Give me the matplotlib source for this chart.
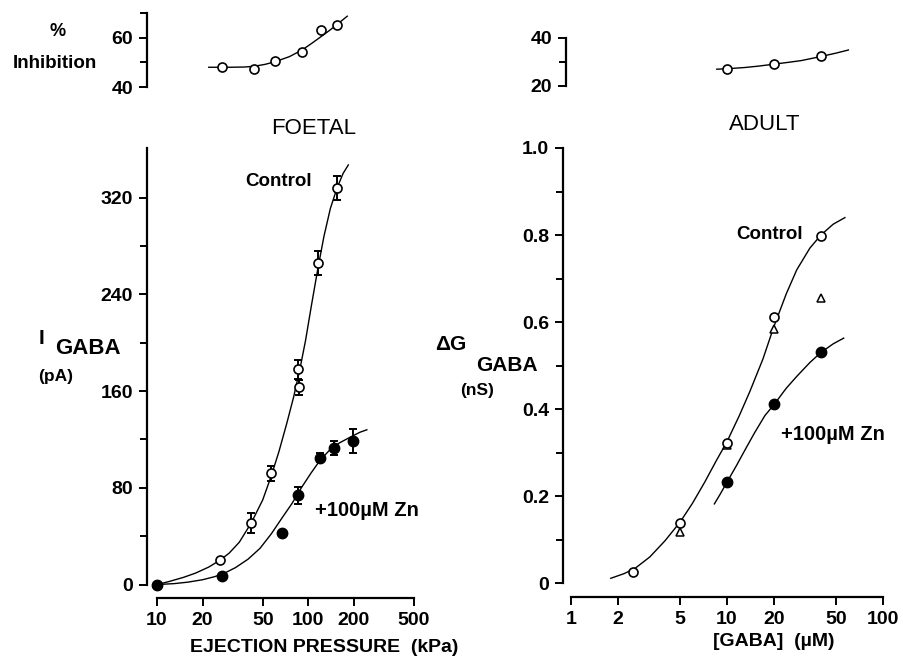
import matplotlib
matplotlib.use("Agg")
import matplotlib.pyplot as plt
import numpy as np
from matplotlib.ticker import FixedLocator, NullLocator, FixedFormatter

plt.rcParams['font.family'] = ['Liberation Sans', 'DejaVu Sans']
plt.rcParams['font.weight'] = 'bold'

W, H = 904, 659

# ---- FOETAL data (ejection pressure kPa, I_GABA pA) ----
foetal_press_ctrl = [10, 26, 42, 57, 85, 87, 116, 155]
foetal_i_ctrl = [0, 20, 51, 92, 178, 163, 266, 328]
foetal_err_ctrl = [0, 0, 8, 6, 8, 6, 10, 10]

foetal_press_zn = [10, 27, 67, 86, 120, 148, 198]
foetal_i_zn = [0, 7, 43, 74, 105, 113, 119]
foetal_err_zn = [0, 0, 0, 7, 4, 6, 10]

# fitted curves
foetal_fit_ctrl_x = [10, 12, 15, 18, 22, 26, 30, 35, 42, 50, 57, 64, 72, 80,
                     88, 96, 105, 116, 127, 140, 155, 170, 184]
foetal_fit_ctrl_y = [0, 2.5, 6, 9.5, 14.5, 20, 26, 35, 51, 70, 90, 110, 133, 155,
                     178, 202, 231, 262, 288, 311, 328, 340, 347]
foetal_fit_zn_x = [10, 13, 16, 20, 24, 28, 33, 40, 48, 57, 67, 78, 90, 104,
                   120, 138, 160, 190, 220, 244]
foetal_fit_zn_y = [0, 0.8, 2, 4, 6.5, 9.5, 14, 21, 30, 42, 55, 67, 80, 92,
                   103, 111, 117, 122, 126, 128]

# % inhibition (foetal)
foetal_inh_x = [27, 44, 60, 91, 122, 156]
foetal_inh = [48.3, 47.3, 50.6, 54, 63.3, 65]
foetal_inh_fit_x = [22, 30, 38, 44, 52, 60, 75, 91, 106, 122, 140, 156, 181]
foetal_inh_fit_y = [48, 48, 48.1, 48.4, 49.2, 50.2, 52.3, 55, 57.8, 60.5, 63.2, 65.5, 68.7]

# ---- ADULT data ([GABA] uM, dG nS) ----
adult_gaba_ctrl = [2.5, 5, 10, 20, 40]
adult_g_ctrl = [0.025, 0.138, 0.322, 0.611, 0.798]
adult_gaba_tri = [5, 10, 20, 40]
adult_g_tri = [0.117, 0.317, 0.584, 0.655]
adult_gaba_zn = [10, 20, 40]
adult_g_zn = [0.232, 0.411, 0.531]

adult_fit_ctrl_x = [1.8, 2.2, 2.6, 3.2, 4, 5, 6, 7.2, 8.5, 10, 12, 14, 17, 20,
                    24, 28, 34, 40, 48, 57]
adult_fit_ctrl_y = [0.011, 0.022, 0.035, 0.06, 0.097, 0.14, 0.183, 0.232, 0.28, 0.325,
                    0.385, 0.44, 0.515, 0.59, 0.665, 0.72, 0.77, 0.80, 0.825, 0.84]
adult_fit_zn_x = [8.3, 9, 10, 11.5, 13, 15, 17.5, 20, 24, 28, 34, 40, 48, 56]
adult_fit_zn_y = [0.182, 0.203, 0.232, 0.27, 0.305, 0.345, 0.385, 0.41, 0.448, 0.475,
                  0.507, 0.53, 0.55, 0.563]

adult_inh_x = [10, 20, 40]
adult_inh = [27.2, 29.2, 32.5]
adult_inh_fit_x = [8.6, 10, 13, 16, 20, 25, 30, 35, 40, 50, 60]
adult_inh_fit_y = [27, 27.2, 27.7, 28.3, 29.1, 29.9, 30.6, 31.5, 32.3, 33.7, 35]

foetal_xticks = [10, 20, 50, 100, 200, 500]
adult_xticks = [1, 2, 5, 10, 20, 50, 100]


fig = plt.figure(figsize=(W / 100, H / 100), dpi=100)


def px_axes(x0, y0, x1, y1):
    return fig.add_axes([x0 / W, 1 - y1 / H, (x1 - x0) / W, (y1 - y0) / H])


def ftext(x, y, s, **kw):
    kw.setdefault('ha', 'center')
    kw.setdefault('va', 'center')
    fig.text(x / W, 1 - y / H, s, **kw)


def style(ax, bottom=True):
    for s in ['top', 'right']:
        ax.spines[s].set_visible(False)
    ax.spines['left'].set_linewidth(1.6)
    ax.spines['bottom'].set_linewidth(1.6)
    ax.patch.set_alpha(0)
    ax.tick_params(which='both', direction='out', width=1.4, labelsize=14)
    ax.tick_params(which='major', length=6, pad=4)
    ax.tick_params(which='minor', length=5)
    ax.xaxis.set_minor_locator(NullLocator())
    if not bottom:
        ax.spines['bottom'].set_visible(False)
        ax.set_xticks([])


open_kw = dict(marker='o', ms=6.5, mfc='white', mec='black', mew=1.2, ls='none', zorder=4)
fill_kw = dict(marker='o', ms=7.5, mfc='black', mec='black', ls='none', zorder=5)
tri_kw = dict(marker='^', ms=6, mfc='white', mec='black', mew=1.1, ls='none', zorder=4)
line_kw = dict(color='black', lw=1.0, zorder=2)


def errs(ax, x, y, e):
    x, y, e = np.array(x), np.array(y), np.array(e)
    m = e > 0
    ax.errorbar(x[m], y[m], yerr=e[m], fmt='none', ecolor='black',
                elinewidth=1.4, capsize=3, capthick=1.4, zorder=3)


# ---------------- FOETAL main ----------------
ax1 = px_axes(147, 148, 414, 598)
ax1.set_xscale('log')
ax1.set_xlim(8.59, 500)
ax1.set_ylim(-11.1, 361)
style(ax1)
ax1.spines['left'].set_bounds(0, 361)
ax1.spines['bottom'].set_bounds(10, 500)
ax1.xaxis.set_major_locator(FixedLocator(foetal_xticks))
ax1.xaxis.set_major_formatter(FixedFormatter([str(v) for v in foetal_xticks]))
ax1.set_yticks([0, 80, 160, 240, 320])
ax1.yaxis.set_minor_locator(FixedLocator([40, 120, 200, 280]))

ax1.plot(foetal_fit_ctrl_x, foetal_fit_ctrl_y, **line_kw)
ax1.plot(foetal_fit_zn_x, foetal_fit_zn_y, **line_kw)
errs(ax1, foetal_press_ctrl, foetal_i_ctrl, foetal_err_ctrl)
errs(ax1, foetal_press_zn, foetal_i_zn, foetal_err_zn)
ax1.plot(foetal_press_ctrl, foetal_i_ctrl, **open_kw)
ax1.plot(foetal_press_zn, foetal_i_zn, **fill_kw)

# ---------------- FOETAL inset ----------------
ax1i = px_axes(147, 13, 414, 87)
ax1i.set_xscale('log')
ax1i.set_xlim(8.59, 500)
ax1i.set_ylim(40, 70)
style(ax1i, bottom=False)
ax1i.set_yticks([40, 60])
ax1i.yaxis.set_minor_locator(FixedLocator([50, 70]))
ax1i.plot(foetal_inh_fit_x, foetal_inh_fit_y, **line_kw)
ax1i.plot(foetal_inh_x, foetal_inh, **open_kw)

# ---------------- ADULT main ----------------
ax2 = px_axes(563, 148, 883, 597)
ax2.set_xscale('log')
ax2.set_xlim(0.889, 100)
ax2.set_ylim(-0.032, 1.0)
style(ax2)
ax2.spines['left'].set_bounds(0, 1.0)
ax2.spines['bottom'].set_bounds(1, 100)
ax2.xaxis.set_major_locator(FixedLocator(adult_xticks))
ax2.xaxis.set_major_formatter(FixedFormatter([str(v) for v in adult_xticks]))
ax2.set_yticks([0, 0.2, 0.4, 0.6, 0.8, 1.0])
ax2.set_yticklabels(['0', '0.2', '0.4', '0.6', '0.8', '1.0'])
ax2.yaxis.set_minor_locator(FixedLocator([0.1, 0.3, 0.5, 0.7, 0.9]))

ax2.plot(adult_fit_ctrl_x, adult_fit_ctrl_y, **line_kw)
ax2.plot(adult_fit_zn_x, adult_fit_zn_y, **line_kw)
ax2.plot(adult_gaba_tri, adult_g_tri, **tri_kw)
ax2.plot(adult_gaba_ctrl, adult_g_ctrl, **open_kw)
ax2.plot(adult_gaba_zn, adult_g_zn, **fill_kw)

# ---------------- ADULT inset ----------------
ax2i = px_axes(566, 38, 883, 86)
ax2i.set_xscale('log')
ax2i.set_xlim(0.929, 100)
ax2i.set_ylim(20, 40)
style(ax2i, bottom=False)
ax2i.set_yticks([20, 40])
ax2i.yaxis.set_minor_locator(FixedLocator([30]))
ax2i.plot(adult_inh_fit_x, adult_inh_fit_y, **line_kw)
ax2i.plot(adult_inh_x, adult_inh, **open_kw)

# ---------------- texts ----------------
ftext(58, 32, '%', fontsize=13)
ftext(55, 63, 'Inhibition', fontsize=13.5)
ftext(314, 128, 'FOETAL', fontsize=16, fontweight='normal')
ftext(765, 124, 'ADULT', fontsize=16, fontweight='normal')

ftext(279, 182, 'Control', fontsize=13.5)
ftext(367, 511, '+100\u00b5M Zn', fontsize=14.5)
ftext(770, 234, 'Control', fontsize=13.5)
ftext(833, 434, '+100\u00b5M Zn', fontsize=14.5)

ftext(42, 339, 'I', fontsize=15)
ftext(88, 349, 'GABA', fontsize=16)
ftext(56, 377, '(pA)', fontsize=12.5)

ftext(451, 345, '\u0394G', fontsize=15)
ftext(507, 365, 'GABA', fontsize=15)
ftext(477, 391, '(nS)', fontsize=12.5)

ftext(324, 648, 'EJECTION PRESSURE  (kPa)', fontsize=14)
ftext(774, 642, '[GABA]  (\u00b5M)', fontsize=14)

fig.savefig('out.png', dpi=100)
